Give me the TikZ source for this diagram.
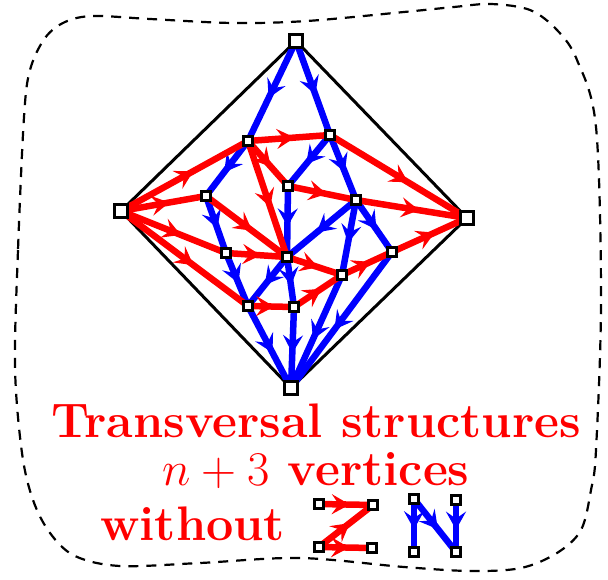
\RequirePackage{fix-cm}
\documentclass[tikz,border=0pt]{standalone}
\usetikzlibrary{arrows.meta,decorations.markings}
\pgfdeclarelayer{edges}
\pgfsetlayers{edges,main}

\begin{document}
\begin{tikzpicture}[x=1pt,y=-1pt,
  vtx/.style={draw,fill=white,line width=2.8pt,minimum size=9.5pt,inner sep=0pt},
  pole/.style={vtx,minimum size=12.5pt},
  midarrow/.style={postaction={decorate},decoration={markings,mark=at position 0.57 with {\arrow{Stealth[length=18pt,width=20pt,inset=7pt]}}}},
  redge/.style={red,line width=6.5pt,midarrow},
  bedge/.style={blue,line width=6.5pt,midarrow},
  lbl/.style={red,inner sep=0pt,font=\fontsize{48.5}{52}\selectfont\bfseries}]
\useasboundingbox (0,0) rectangle (608,580);
% outer blob
\draw[dashed,line width=2.2pt,dash pattern=on 10pt off 8pt] plot[smooth cycle,tension=0.55] coordinates {(24,117) (18,250) (15,367) (22,453) (33,500) (50,533) (75,556) (120,566) (200,563) (300,558) (404,567) (471,571) (521,568) (557,553) (581,530) (591,490) (596,450) (601,300) (596,127) (577,60) (557,30) (530,10) (491,4) (454,7) (404,12) (307,21) (233,23) (150,19) (93,16) (65,22) (45,38) (30,70)};
% poles
\node[pole] (N) at (296,41) {};
\node[pole] (W) at (121,211) {};
\node[pole] (E) at (467,218) {};
\node[pole] (S) at (291,388) {};
% inner vertices
\node[vtx] (a) at (248,141) {};
\node[vtx] (b) at (330,135) {};
\node[vtx] (c) at (206,196) {};
\node[vtx] (d) at (288,186) {};
\node[vtx] (e) at (356,200) {};
\node[vtx] (f) at (226,253) {};
\node[vtx] (g) at (287,257) {};
\node[vtx] (h) at (392,252) {};
\node[vtx] (i) at (342,275) {};
\node[vtx] (j) at (248,306) {};
\node[vtx] (k) at (294,307) {};
\begin{pgfonlayer}{edges}
\draw[line width=3pt] (N.center) -- (W.center) -- (S.center) -- (E.center) -- cycle;
\foreach \s/\t in {N/a,N/b,a/c,b/d,b/e,c/f,d/g,e/g,e/i,e/h,f/j,g/j,g/k,j/S,k/S,i/S,h/S}
  \draw[bedge] (\s.center) -- (\t.center);
\foreach \s/\t in {W/a,W/c,W/f,W/j,a/b,a/d,a/g,b/E,c/g,d/e,e/E,f/g,g/i,i/h,h/E,j/k,k/i}
  \draw[redge] (\s.center) -- (\t.center);
\end{pgfonlayer}
% caption
\node[lbl,anchor=base] (title) at (316,437) {Transversal structures};
\node[lbl,anchor=base] (count) at (316,485) {$n+3$ vertices};
\node[lbl,anchor=base west] (without) at (100,540) {without};
% forbidden Z
\node[vtx] (z1) at (319,504) {};
\node[vtx] (z2) at (373,505) {};
\node[vtx] (z3) at (319,547) {};
\node[vtx] (z4) at (372,548) {};
% forbidden N
\node[vtx] (n1) at (414,499) {};
\node[vtx] (n2) at (456,500) {};
\node[vtx] (n3) at (414,552) {};
\node[vtx] (n4) at (456,552) {};
\begin{pgfonlayer}{edges}
\foreach \s/\t in {z1/z2,z3/z2,z3/z4}
  \draw[redge] (\s.center) -- (\t.center);
\foreach \s/\t in {n1/n3,n1/n4,n2/n4}
  \draw[bedge] (\s.center) -- (\t.center);
\end{pgfonlayer}
\end{tikzpicture}
\end{document}
